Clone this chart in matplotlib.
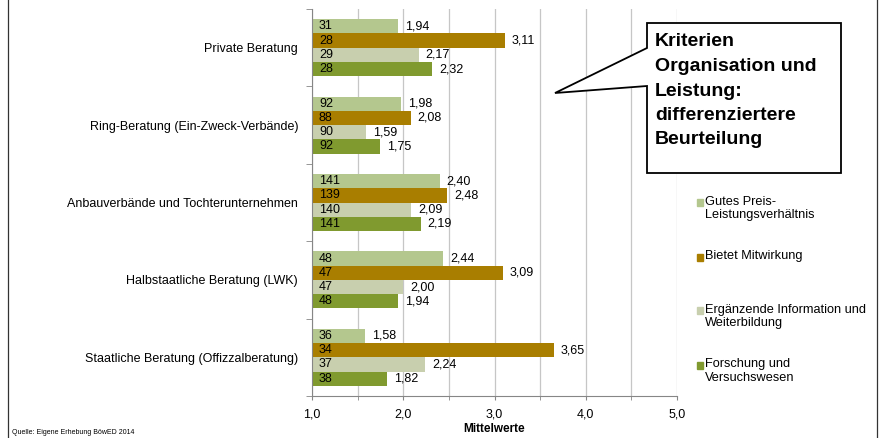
import numpy as np
import matplotlib
matplotlib.use('Agg')
import matplotlib.pyplot as plt
from matplotlib.patches import Polygon, Rectangle
from matplotlib.lines import Line2D
import matplotlib.ticker as ticker

plt.rcParams['font.family'] = ['Liberation Sans', 'DejaVu Sans']

categories = ['Private Beratung', 'Ring-Beratung (Ein-Zweck-Verbände)',
              'Anbauverbände und Tochterunternehmen', 'Halbstaatliche Beratung (LWK)',
              'Staatliche Beratung (Offizzalberatung)']
series = ['Gutes Preis-\nLeistungsverhältnis', 'Bietet Mitwirkung',
          'Ergänzende Information und\nWeiterbildung', 'Forschung und\nVersuchswesen']
colors = ['#b4c78e', '#a97e00', '#c8cfae', '#809a2f']

# Mittelwerte per Kategorie (Zeile) und Kriterium (Spalte)
means = [[1.94, 3.11, 2.17, 2.32],
         [1.98, 2.08, 1.59, 1.75],
         [2.40, 2.48, 2.09, 2.19],
         [2.44, 3.09, 2.00, 1.94],
         [1.58, 3.65, 2.24, 1.82]]
counts = [[31, 28, 29, 28],
          [92, 88, 90, 92],
          [141, 139, 140, 141],
          [48, 47, 47, 48],
          [36, 34, 37, 38]]
xticks = [1.0, 2.0, 3.0, 4.0, 5.0]

W, H = 883, 438
fig = plt.figure(figsize=(W / 100, H / 100), dpi=100)
ax = fig.add_axes([312 / W, 1 - 396 / H, (677 - 312) / W, (396 - 9) / H])

base = 1.0
bh = 0.184
y = np.arange(len(categories))
for j in range(len(series)):
    vals = np.array([m[j] for m in means])
    ypos = y + (j - 1.5) * bh
    ax.barh(ypos, vals - base, left=base, height=bh, color=colors[j], zorder=2)
    for k in range(len(categories)):
        ax.annotate(str(counts[k][j]), (base, ypos[k]), xytext=(5, 0),
                    textcoords='offset points', va='center', ha='left', fontsize=9)
        ax.annotate(f'{vals[k]:.2f}'.replace('.', ','), (vals[k], ypos[k]), xytext=(5, 0),
                    textcoords='offset points', va='center', ha='left', fontsize=9)

ax.set_xlim(1.0, 5.0)
ax.set_ylim(len(categories) - 0.5, -0.5)
ax.set_xticks(xticks)
ax.xaxis.set_minor_locator(ticker.MultipleLocator(0.5))
ax.xaxis.set_major_formatter(ticker.FuncFormatter(lambda v, p: f'{v:.1f}'.replace('.', ',')))
ax.grid(axis='x', which='both', color='#c6c6c6', lw=0.9, zorder=0)
ax.tick_params(axis='x', which='both', length=3, color='#868686', labelsize=9, pad=6)

ax.set_yticks(y)
ax.set_yticklabels(categories, fontsize=9)
ax.set_yticks(np.arange(-0.5, len(categories) + 0.5, 1), minor=True)
ax.tick_params(axis='y', which='major', length=0, pad=10)
ax.tick_params(axis='y', which='minor', length=4, color='#868686')

for s in ['top', 'right']:
    ax.spines[s].set_visible(False)
for s in ['left', 'bottom']:
    ax.spines[s].set_color('#868686')

ax.set_xlabel('Mittelwerte', fontsize=8.5, fontweight='bold', labelpad=2)

# legend drawn by hand to follow the original spacing
leg_y = [202, 257, 310, 365]
for j, lab in enumerate(series):
    fig.add_artist(Rectangle((697 / W, 1 - (leg_y[j] + 3.5) / H), 6 / W, 7 / H,
                             transform=fig.transFigure, color=colors[j]))
    fig.text(705 / W, 1 - (leg_y[j] - 6.5) / H, lab, fontsize=9.2, va='top', ha='left',
             linespacing=1.15)

# callout
pts = [(647, 23), (841, 23), (841, 173), (647, 173), (647, 86), (555, 93), (647, 48)]
fig.add_artist(Polygon([(px / W, 1 - py / H) for px, py in pts], closed=True,
                       transform=fig.transFigure, facecolor='white', edgecolor='black',
                       lw=1.3, zorder=5))
call_lines = ['Kriterien', 'Organisation und', 'Leistung:', 'differenziertere', 'Beurteilung']
for i, t in enumerate(call_lines):
    fig.text(655 / W, 1 - (42 + i * 24.5) / H, t, fontsize=14, fontweight='bold',
             va='center', ha='left', zorder=6)

# frame lines
for fx in [8, 877]:
    fig.add_artist(Line2D([fx / W, fx / W], [0, 1], transform=fig.transFigure,
                          color='#333333', lw=0.9))

fig.text(12 / W, 1 - 432 / H, 'Quelle: Eigene Erhebung BöwED 2014', fontsize=5.0,
         va='center', ha='left')

fig.savefig('out.png', dpi=100)
